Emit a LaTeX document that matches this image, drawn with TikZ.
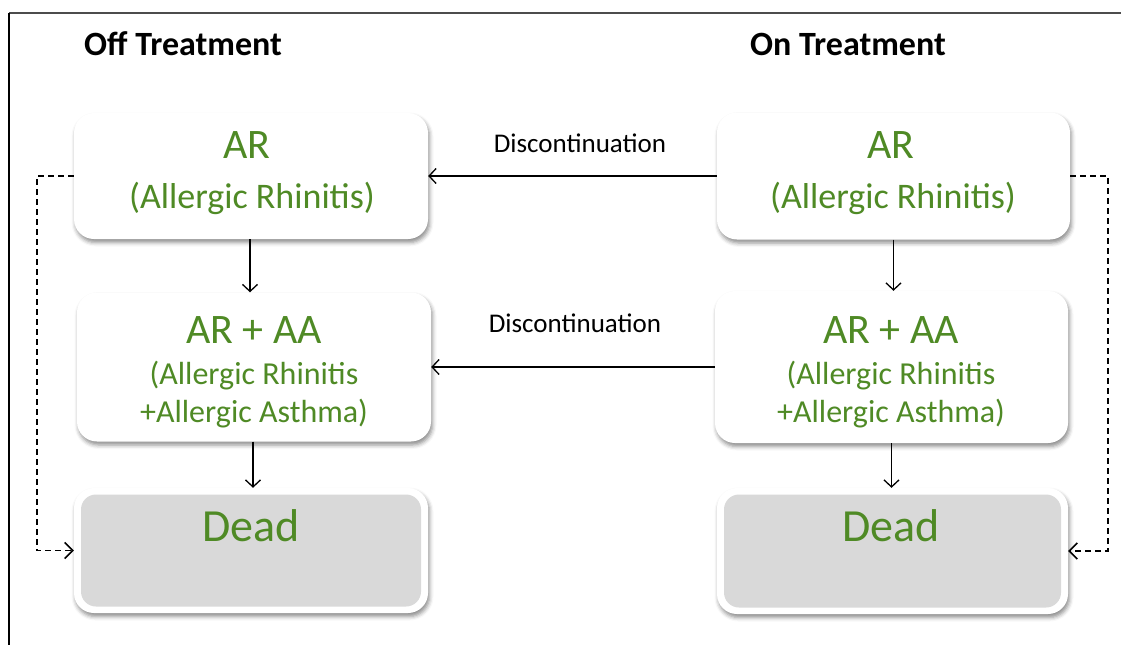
\documentclass[tikz,border=0pt]{standalone}
\usepackage{fontspec}
\setmainfont{Carlito}
\usetikzlibrary{arrows.meta,shadows.blur}
\definecolor{txtgreen}{RGB}{79,138,37}
\definecolor{deadgray}{RGB}{217,217,217}
\begin{document}
\begin{tikzpicture}[x=1pt,y=-1pt,
  statebox/.style={fill=white, draw=none, rounded corners=20pt, inner sep=0pt,
    blur shadow={shadow xshift=1.5pt, shadow yshift=-3.5pt, shadow blur radius=4pt, shadow opacity=45}},
  deadin/.style={fill=deadgray, draw=none, rounded corners=15pt, inner sep=0pt},
  title/.style={font=\fontsize{34}{40}\selectfont\bfseries, text=black, inner sep=0pt},
  big/.style={font=\fontsize{42}{50}\selectfont, text=txtgreen, inner sep=0pt},
  sub/.style={font=\fontsize{36}{43}\selectfont, text=txtgreen, inner sep=0pt},
  subs/.style={font=\fontsize{32}{39}\selectfont, text=txtgreen, inner sep=0pt},
  dead/.style={font=\fontsize{46}{55}\selectfont, text=txtgreen, inner sep=0pt},
  disc/.style={font=\fontsize{27}{32}\selectfont, text=black, inner sep=0pt},
  conn/.style={line width=1.3pt, -{Straight Barb[length=7pt,width=15pt]}},
  dconn/.style={line width=1.6pt, dash pattern=on 6pt off 4pt, -{Straight Barb[length=8pt,width=16pt]}}]
\useasboundingbox (0,0) rectangle (1121,645);
% frame
\draw[line width=2.2pt, color=black!70] (9,13) -- (1121,13);
\draw[line width=1.3pt] (9,13) -- (9,645);
% headers
\node[title, anchor=base west] (offT) at (84,55) {Off Treatment};
\node[title, anchor=base] (onT) at (848,55) {On Treatment};
% boxes
\node[statebox, minimum width=354pt, minimum height=126pt] (arL) at (251,176) {};
\node[statebox, minimum width=353pt, minimum height=127pt] (arR) at (893.5,176) {};
\node[statebox, minimum width=354pt, minimum height=149pt] (aaL) at (254,367) {};
\node[statebox, minimum width=353pt, minimum height=152pt] (aaR) at (891.5,367) {};
\node[statebox, minimum width=354pt, minimum height=125pt] (deadL) at (251,550.5) {};
\node[deadin, minimum width=340pt, minimum height=112pt] (deadLin) at (deadL) {};
\node[statebox, minimum width=351pt, minimum height=126pt] (deadR) at (892.5,551) {};
\node[deadin, minimum width=337pt, minimum height=113pt] (deadRin) at (deadR) {};
% texts
\node[big, anchor=base] (arLt) at (247,158) {AR};
\node[sub, anchor=base] (arLs) at (252,208) {(Allergic Rhinitis)};
\node[big, anchor=base] (arRt) at (891,158) {AR};
\node[sub, anchor=base] (arRs) at (893,208) {(Allergic Rhinitis)};
\node[big, anchor=base] (aaLt) at (254,343) {AR + AA};
\node[subs, anchor=base] (aaLs1) at (254,384) {(Allergic Rhinitis};
\node[subs, anchor=base] (aaLs2) at (254,422) {+Allergic Asthma)};
\node[big, anchor=base] (aaRt) at (891,343) {AR + AA};
\node[subs, anchor=base] (aaRs1) at (891,384) {(Allergic Rhinitis};
\node[subs, anchor=base] (aaRs2) at (891,422) {+Allergic Asthma)};
\node[dead, anchor=base] (deadLt) at (251,541) {Dead};
\node[dead, anchor=base] (deadRt) at (891,541) {Dead};
\node[disc] (disc1) at (580,143) {Discontinuation};
\node[disc] (disc2) at (575,323) {Discontinuation};
% connectors
\draw[conn] (arR.west) -- (arL.east);
\draw[conn] (aaR.west) -- (aaL.east);
\draw[conn] ([xshift=-1pt]arL.south) -- ([xshift=-1pt]arL.south |- aaL.north);
\draw[conn] (arR.south) -- (arR.south |- aaR.north);
\draw[conn] ([xshift=-1pt]aaL.south) -- ([xshift=-1pt]aaL.south |- deadL.north);
\draw[conn] (aaR.south) -- (aaR.south |- deadR.north);
\draw[dconn] (arL.west) -- ++(-37,0) |- (deadL.west);
\draw[dconn] (arR.east) -- ++(38,0) |- (deadR.east);
\end{tikzpicture}
\end{document}
